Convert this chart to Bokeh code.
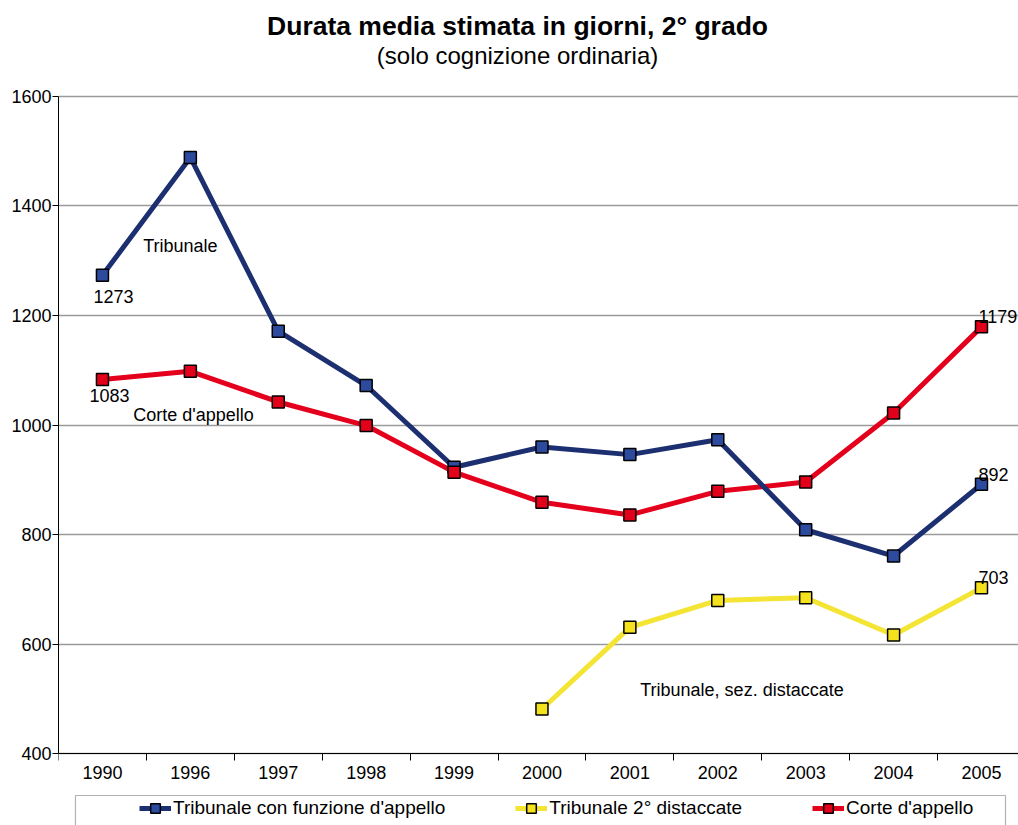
from bokeh.plotting import figure
from bokeh.models import (FixedTicker, Legend, LegendItem, Range1d,
                          BoxAnnotation, ColumnDataSource)
from bokeh.core.properties import value
from bokeh.embed import file_html
from bokeh.resources import INLINE

# ---- data -------------------------------------------------------------
years = ["1990", "1996", "1997", "1998", "1999", "2000",
         "2001", "2002", "2003", "2004", "2005"]
tribunale_appello = [1273, 1488, 1171, 1072, 923, 960, 946, 973, 809, 761, 892]
corte_appello = [1083, 1098, 1042, 999, 914, 859, 836, 879, 896, 1022, 1179]
sez_years = ["2000", "2001", "2002", "2003", "2004", "2005"]
sez_distaccate = [482, 631, 680, 685, 617, 703]
y_ticks = [400, 600, 800, 1000, 1200, 1400, 1600]

title_text = "Durata media stimata in giorni, 2° grado"
subtitle_text = "(solo cognizione ordinaria)"
legend_labels = ["Tribunale con funzione d'appello", "Tribunale 2° distaccate", "Corte d'appello"]

FONT = "Liberation Sans"
BLUE_LINE, BLUE_FILL = "#1c2f70", "#2d4b9e"
RED_LINE, RED_FILL = "#e4001c", "#e2001a"
YEL_LINE, YEL_FILL = "#f4e433", "#f6e11f"

xs = list(range(len(years)))
xs_sez = [years.index(y) for y in sez_years]
y_min, y_max = y_ticks[0], y_ticks[-1]

src_t = ColumnDataSource(dict(x=xs, y=tribunale_appello))
src_c = ColumnDataSource(dict(x=xs, y=corte_appello))
src_s = ColumnDataSource(dict(x=xs_sez, y=sez_distaccate))

# frame spans the full height of the canvas; the value axis runs 400..1600
p = figure(width=1018, height=825, output_backend="svg", toolbar_location=None,
           x_range=Range1d(-0.5, 10.421), y_range=Range1d(269.6, 1774.2),
           min_border_left=58, min_border_right=0, min_border_top=0,
           min_border_bottom=0, title=None)
p.outline_line_color = None
p.background_fill_color = "white"
p.border_fill_color = "white"

# ---- axes ---------------------------------------------------------------
p.xgrid.visible = False
p.ygrid.ticker = FixedTicker(ticks=y_ticks)
p.ygrid.grid_line_color = "#9a9a9a"
p.ygrid.grid_line_width = 1.4

p.yaxis.ticker = FixedTicker(ticks=y_ticks)
p.yaxis.bounds = (y_min, y_max)
p.yaxis.axis_line_color = "black"
p.yaxis.major_tick_line_color = "black"
p.yaxis.major_tick_out = 6
p.yaxis.major_tick_in = 0
p.yaxis.minor_tick_line_color = None
p.yaxis.major_label_standoff = 1
p.yaxis.major_label_text_font = FONT
p.yaxis.major_label_text_font_size = "18px"
p.yaxis.major_label_text_color = "black"

p.xaxis.fixed_location = y_min
p.xaxis.bounds = (-0.5, len(xs) - 0.5)
p.xaxis.ticker = FixedTicker(ticks=xs, minor_ticks=[i - 0.5 for i in xs] + [len(xs) - 0.5])
p.xaxis.major_label_overrides = {i: y for i, y in enumerate(years)}
p.xaxis.major_tick_line_color = None
p.xaxis.major_tick_out = 0
p.xaxis.major_tick_in = 0
p.xaxis.minor_tick_line_color = "black"
p.xaxis.minor_tick_out = 7
p.xaxis.minor_tick_in = 0
p.xaxis.axis_line_color = "black"
p.xaxis.major_label_standoff = 5
p.xaxis.major_label_text_font = FONT
p.xaxis.major_label_text_font_size = "18px"
p.xaxis.major_label_text_color = "black"

# ---- series -------------------------------------------------------------
l_c = p.line("x", "y", source=src_c, line_color=RED_LINE, line_width=5)
l_t = p.line("x", "y", source=src_t, line_color=BLUE_LINE, line_width=5)
l_s = p.line("x", "y", source=src_s, line_color=YEL_LINE, line_width=5)
m_t = p.scatter("x", "y", source=src_t, marker="square", size=12,
                fill_color=BLUE_FILL, line_color="black", line_width=1.5)
m_s = p.scatter("x", "y", source=src_s, marker="square", size=12,
                fill_color=YEL_FILL, line_color="black", line_width=1.5)
m_c = p.scatter("x", "y", source=src_c, marker="square", size=12,
                fill_color=RED_FILL, line_color="black", line_width=1.5)

# ---- annotations (value labels & series names) --------------------------
tf = value(FONT)
common = dict(text_font=tf, text_font_size="18px", text_color="black", text_align="left")
p.text(x=[0], y=[tribunale_appello[0]], text=[str(tribunale_appello[0])],
       x_offset=-9, y_offset=15, text_baseline="top", **common)
p.text(x=[0], y=[corte_appello[0]], text=[str(corte_appello[0])],
       x_offset=-13, y_offset=10, text_baseline="top", **common)
p.text(x=[10], y=[corte_appello[-1]], text=[str(corte_appello[-1])],
       x_offset=-3, y_offset=-10, text_baseline="alphabetic", **common)
p.text(x=[10], y=[tribunale_appello[-1]], text=[str(tribunale_appello[-1])],
       x_offset=-3, y_offset=-10, text_baseline="alphabetic", **common)
p.text(x=[10], y=[sez_distaccate[-1]], text=[str(sez_distaccate[-1])],
       x_offset=-3, y_offset=-10, text_baseline="alphabetic", **common)

p.text(x=[0.464], y=[1327], text=["Tribunale"], text_baseline="middle", **common)
p.text(x=[0.35], y=[1019], text=["Corte d'appello"], text_baseline="middle", **common)
p.text(x=[6.118], y=[516], text=["Tribunale, sez. distaccate"], text_baseline="middle", **common)

# ---- titles -------------------------------------------------------------
p.text(x=[4.722], y=[1728.5], text=[title_text], text_align="center",
       text_baseline="alphabetic", text_font=tf, text_font_size="26.5px",
       text_font_style="bold", text_color="black")
p.text(x=[4.722], y=[1673.8], text=[subtitle_text], text_align="center",
       text_baseline="alphabetic", text_font=tf, text_font_size="24px",
       text_color="black")

# ---- legend -------------------------------------------------------------
legend = Legend(items=[
    LegendItem(label=legend_labels[0], renderers=[l_t, m_t]),
    LegendItem(label=legend_labels[1], renderers=[l_s, m_s]),
    LegendItem(label=legend_labels[2], renderers=[l_c, m_c]),
], orientation="horizontal", location=(77, 1), padding=4, spacing=70,
    glyph_width=32, glyph_height=24, label_standoff=2, margin=0,
    label_text_font=FONT, label_text_font_size="19px", label_text_color="black",
    border_line_alpha=0, background_fill_alpha=0)
p.add_layout(legend, "center")

box = BoxAnnotation(left=-0.307, right=10.273, top=324.3, bottom=250,
                    fill_alpha=0, line_color="black", line_width=1.2)
p.add_layout(box)

open("out.html", "w").write(file_html(p, INLINE))
